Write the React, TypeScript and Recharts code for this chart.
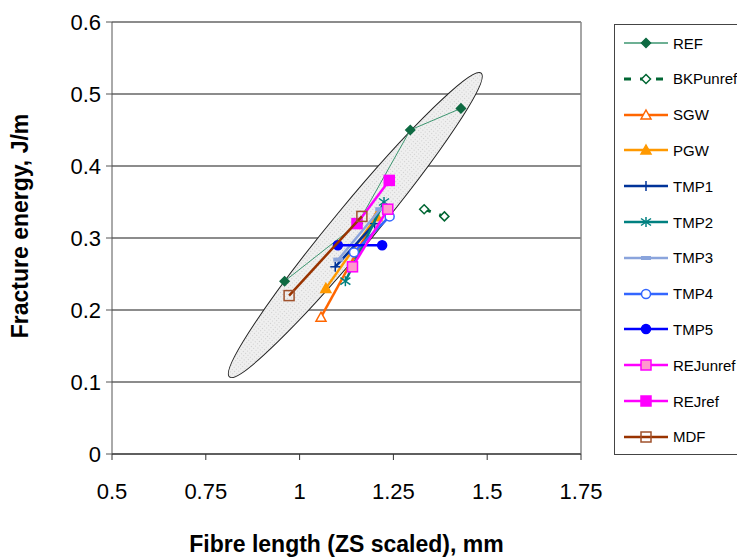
import React from 'react';
import { ScatterChart, Scatter, XAxis, YAxis, CartesianGrid, Legend, ReferenceLine } from 'recharts';

const xTicks = [0.5, 0.75, 1, 1.25, 1.5, 1.75];
const yTicks = [0, 0.1, 0.2, 0.3, 0.4, 0.5, 0.6];

const refData = [
  { x: 0.96, y: 0.24 },
  { x: 1.155, y: 0.32 },
  { x: 1.295, y: 0.45 },
  { x: 1.43, y: 0.48 },
];
const bkpUnrefData = [
  { x: 1.332, y: 0.34 },
  { x: 1.386, y: 0.33 },
];
const sgwData = [
  { x: 1.057, y: 0.19 },
  { x: 1.205, y: 0.33 },
];
const pgwData = [
  { x: 1.07, y: 0.23 },
  { x: 1.205, y: 0.33 },
];
const tmp1Data = [
  { x: 1.095, y: 0.26 },
  { x: 1.2, y: 0.32 },
];
const tmp2Data = [
  { x: 1.122, y: 0.24 },
  { x: 1.225, y: 0.35 },
];
const tmp3Data = [
  { x: 1.103, y: 0.27 },
  { x: 1.215, y: 0.34 },
];
const tmp4Data = [
  { x: 1.145, y: 0.28 },
  { x: 1.24, y: 0.33 },
];
const tmp5Data = [
  { x: 1.102, y: 0.29 },
  { x: 1.22, y: 0.29 },
];
const rejUnrefData = [
  { x: 1.141, y: 0.26 },
  { x: 1.235, y: 0.34 },
];
const rejRefData = [
  { x: 1.153, y: 0.32 },
  { x: 1.239, y: 0.38 },
];
const mdfData = [
  { x: 0.972, y: 0.22 },
  { x: 1.166, y: 0.33 },
];

// ellipse annotation: ends of major axis (data units) and minor/major ratio
const ellipseTips = [
  { x: 0.813, y: 0.107 },
  { x: 1.484, y: 0.529 },
];
const ellipseWidthRatio = 0.106;

type Kind = 'diamond' | 'triangle' | 'plus' | 'star' | 'dash' | 'circle' | 'square';

interface SeriesDef {
  name: string;
  data: { x: number; y: number }[];
  line: string;
  width: number;
  dash?: string;
  kind: Kind;
  mStroke: string;
  mFill: string;
  size: number;
}

const series: SeriesDef[] = [
  { name: 'REF', data: refData, line: '#3d9670', width: 1, kind: 'diamond', mStroke: '#0e6a42', mFill: '#0e6a42', size: 9 },
  { name: 'BKPunref', data: bkpUnrefData, line: '#006633', width: 3, dash: '7 9', kind: 'diamond', mStroke: '#006633', mFill: '#ffffff', size: 9 },
  { name: 'SGW', data: sgwData, line: '#ff6600', width: 2.5, kind: 'triangle', mStroke: '#ff6600', mFill: '#ffffff', size: 10 },
  { name: 'PGW', data: pgwData, line: '#ff9900', width: 2.5, kind: 'triangle', mStroke: '#ff9900', mFill: '#ff9900', size: 10 },
  { name: 'TMP1', data: tmp1Data, line: '#003399', width: 2.5, kind: 'plus', mStroke: '#003399', mFill: 'none', size: 10 },
  { name: 'TMP2', data: tmp2Data, line: '#008080', width: 2.5, kind: 'star', mStroke: '#008080', mFill: 'none', size: 10 },
  { name: 'TMP3', data: tmp3Data, line: '#8aa4dc', width: 2.5, kind: 'dash', mStroke: '#8aa4dc', mFill: '#8aa4dc', size: 10 },
  { name: 'TMP4', data: tmp4Data, line: '#3366ff', width: 2.5, kind: 'circle', mStroke: '#3366ff', mFill: '#ffffff', size: 9 },
  { name: 'TMP5', data: tmp5Data, line: '#0000ff', width: 2.5, kind: 'circle', mStroke: '#0000ff', mFill: '#0000ff', size: 9 },
  { name: 'REJunref', data: rejUnrefData, line: '#ff00ff', width: 2.5, kind: 'square', mStroke: '#ff00ff', mFill: '#ff99cc', size: 10 },
  { name: 'REJref', data: rejRefData, line: '#ff00ff', width: 2.5, kind: 'square', mStroke: '#ff00ff', mFill: '#ff00ff', size: 10 },
  { name: 'MDF', data: mdfData, line: '#993300', width: 2.5, kind: 'square', mStroke: '#a0522d', mFill: 'none', size: 10 },
];

const FONT = "'Liberation Sans', Arial, sans-serif";

function Marker({ kind, cx, cy, stroke, fill, size }: { kind: Kind; cx: number; cy: number; stroke: string; fill: string; size: number }) {
  const h = size / 2;
  switch (kind) {
    case 'diamond':
      return <polygon points={`${cx},${cy - h} ${cx + h},${cy} ${cx},${cy + h} ${cx - h},${cy}`} fill={fill} stroke={stroke} strokeWidth={1.5} />;
    case 'triangle':
      return <polygon points={`${cx},${cy - h} ${cx + h},${cy + h * 0.8} ${cx - h},${cy + h * 0.8}`} fill={fill} stroke={stroke} strokeWidth={1.5} />;
    case 'plus':
      return (
        <g stroke={stroke} strokeWidth={1.5}>
          <line x1={cx - h} y1={cy} x2={cx + h} y2={cy} />
          <line x1={cx} y1={cy - h} x2={cx} y2={cy + h} />
        </g>
      );
    case 'star':
      return (
        <g stroke={stroke} strokeWidth={1.5}>
          <line x1={cx} y1={cy - h} x2={cx} y2={cy + h} />
          <line x1={cx - h} y1={cy - h * 0.7} x2={cx + h} y2={cy + h * 0.7} />
          <line x1={cx - h} y1={cy + h * 0.7} x2={cx + h} y2={cy - h * 0.7} />
        </g>
      );
    case 'dash':
      return <rect x={cx - h} y={cy - 2} width={size} height={4} fill={fill} />;
    case 'circle':
      return <circle cx={cx} cy={cy} r={h} fill={fill} stroke={stroke} strokeWidth={1.5} />;
    case 'square':
    default:
      return <rect x={cx - h} y={cy - h} width={size} height={size} fill={fill} stroke={stroke} strokeWidth={1.5} />;
  }
}

const renderEllipse = (props: any) => {
  const pts = props && props.points;
  if (!pts || pts.length < 2) return <g />;
  const ax = pts[0].x ?? pts[0].cx;
  const ay = pts[0].y ?? pts[0].cy;
  const bx = pts[1].x ?? pts[1].cx;
  const by = pts[1].y ?? pts[1].cy;
  const cx = (ax + bx) / 2;
  const cy = (ay + by) / 2;
  const rx = Math.hypot(bx - ax, by - ay) / 2;
  const ry = rx * ellipseWidthRatio;
  const ang = (Math.atan2(by - ay, bx - ax) * 180) / Math.PI;
  return (
    <g>
      <defs>
        <pattern id="ellDots" width="3" height="3" patternUnits="userSpaceOnUse">
          <rect width="3" height="3" fill="#efefef" />
          <rect width="1" height="1" fill="#cdcdcd" />
        </pattern>
      </defs>
      <ellipse cx={cx} cy={cy} rx={rx} ry={ry} transform={`rotate(${ang} ${cx} ${cy})`} fill="url(#ellDots)" stroke="#222" strokeWidth={1} />
    </g>
  );
};

const renderLegend = () => (
  <div
    style={{
      border: '1px solid #444',
      width: 140,
      height: 431,
      boxSizing: 'border-box',
      background: '#fff',
      fontFamily: FONT,
      fontSize: 15,
      position: 'relative',
      color: '#000',
    }}
  >
    {series.map((s, i) => (
      <div
        key={s.name}
        style={{ position: 'absolute', left: 0, top: 19 + i * 35.8 - 11, height: 20, display: 'flex', alignItems: 'center', whiteSpace: 'nowrap' }}
      >
        <svg width={56} height={20} style={{ display: 'block' }}>
          <line x1={9} y1={10} x2={53} y2={10} stroke={s.line} strokeWidth={s.width === 1 ? 1.5 : s.width} strokeDasharray={s.dash} />
          <Marker kind={s.kind} cx={31} cy={10} stroke={s.mStroke} fill={s.mFill === 'none' ? 'none' : s.mFill} size={s.size} />
        </svg>
        <span style={{ marginLeft: 2 }}>{s.name}</span>
      </div>
    ))}
  </div>
);

export default function App() {
  return (
    <div style={{ position: 'absolute', left: 0, top: 0, width: 737, height: 557, overflow: 'hidden', background: '#fff' }}>
      <ScatterChart width={737} height={557} margin={{ top: 22, right: 156, left: 0, bottom: 0 }}>
        <CartesianGrid vertical={false} stroke="#666" strokeWidth={1.3} />
        <XAxis
          type="number"
          dataKey="x"
          domain={[0.5, 1.75]}
          ticks={xTicks}
          interval={0}
          height={103}
          tickSize={6}
          tickMargin={23}
          stroke="#333"
          tick={{ fill: '#000', fontSize: 22, fontFamily: FONT }}
          label={{ value: 'Fibre length (ZS scaled), mm', position: 'insideBottom', offset: 5, style: { fontSize: 23, fontWeight: 'bold', fontFamily: FONT, fill: '#000' } }}
        />
        <YAxis
          type="number"
          dataKey="y"
          domain={[0, 0.6]}
          ticks={yTicks}
          interval={0}
          width={112}
          tickSize={6}
          tickMargin={5}
          stroke="#555"
          tick={{ fill: '#000', fontSize: 22, fontFamily: FONT }}
          label={(p: any) => (
            <text
              x={20}
              y={226}
              transform="rotate(-90 20 226)"
              textAnchor="middle"
              dominantBaseline="central"
              style={{ fontSize: 23, fontWeight: 'bold', fontFamily: FONT, fill: '#000' }}
            >
              Fracture energy, J/m
            </text>
          )}
        />
        <ReferenceLine x={1.75} stroke="#888" strokeWidth={1.5} />
        <Legend layout="vertical" align="center" verticalAlign="middle" content={renderLegend} wrapperStyle={{ left: 614, top: 24, width: 140, height: 431 }} />
        <Scatter
          name="ellipse"
          data={ellipseTips}
          legendType="none"
          isAnimationActive={false}
          shape={() => <g />}
          line={renderEllipse as any}
          fill="#000"
        />
        {series.map((s) => (
          <Scatter
            key={s.name}
            name={s.name}
            data={s.data}
            fill={s.line}
            isAnimationActive={false}
            line={{ stroke: s.line, strokeWidth: s.width, strokeDasharray: s.dash }}
            lineJointType="linear"
            shape={(p: any) => <Marker kind={s.kind} cx={p.cx} cy={p.cy} stroke={s.mStroke} fill={s.mFill} size={s.size} />}
          />
        ))}
      </ScatterChart>
    </div>
  );
}
